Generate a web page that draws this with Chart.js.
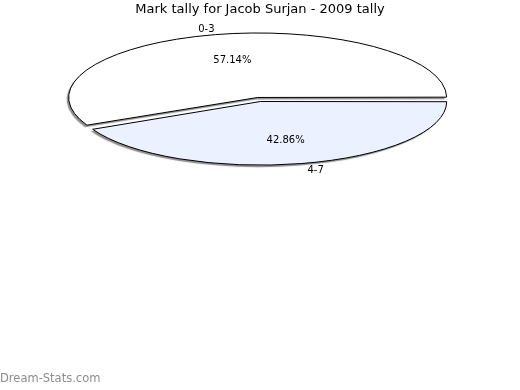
<!DOCTYPE html>
<html>
<head>
<meta charset="utf-8">
<script src="https://cdn.jsdelivr.net/npm/chart.js@4/dist/chart.umd.min.js"></script>
<style>
  html, body { margin: 0; padding: 0; background: #fff; }
  #wrap { width: 520px; height: 390px; position: relative; }
</style>
</head>
<body>
<div id="wrap"><canvas id="pieChart"></canvas></div>
<script>
// Mark tally pie (flattened into an ellipse)
const categories = ['0-3', '4-7'];
const counts = [4, 3];

const total = counts.reduce((a, b) => a + b, 0);

// where the flattened pie sits on the page
const CX = 259, CY = 99.5, RX = 189, RY = 64.5;
const EXPLODE = 22;
const FONT = '"DejaVu Sans", Verdana, sans-serif';

const ellipsePie = {
    id: 'ellipsePie',
    beforeDatasetsDraw(chart) {
        const ctx = chart.ctx;
        const arc = chart.getDatasetMeta(0).data[0];
        const R = arc.outerRadius + EXPLODE / 4;
        const dpr = chart.currentDevicePixelRatio;
        ctx.save();
        ctx.translate(CX, CY);
        ctx.scale(RX / R, RY / R);
        ctx.translate(-arc.x, -arc.y);
        const fill = ctx.fill, stroke = ctx.stroke;
        ctx.fill = function () {
            this.save();
            this.shadowColor = 'rgba(0,0,0,0.45)';
            this.shadowOffsetX = -2;
            this.shadowOffsetY = 2;
            this.shadowBlur = 1;
            fill.apply(this, arguments);
            this.restore();
        };
        // stroke in page space so the outline stays 1px all round
        ctx.stroke = function () {
            this.save();
            this.setTransform(dpr, 0, 0, dpr, 0, 0);
            this.shadowColor = 'transparent';
            stroke.apply(this, arguments);
            this.restore();
        };
    },
    afterDatasetsDraw(chart) {
        const ctx = chart.ctx;
        delete ctx.fill;
        delete ctx.stroke;
        ctx.restore();

        const meta = chart.getDatasetMeta(0);
        ctx.save();
        ctx.font = '10px ' + FONT;
        ctx.fillStyle = '#000';
        meta.data.forEach((arc, i) => {
            const R = arc.outerRadius + EXPLODE / 4;
            const mid = (arc.startAngle + arc.endAngle) / 2;
            const c = Math.cos(mid), s = Math.sin(mid);
            const sh = EXPLODE / 4;
            const ox = CX + sh * c * RX / R;
            const oy = CY + sh * s * RY / R;

            const pct = (counts[i] / total * 100).toFixed(2) + '%';
            ctx.textAlign = 'center';
            ctx.textBaseline = 'middle';
            ctx.fillText(pct, ox + 0.6 * RX * c, oy + 0.6 * RY * s + 1);

            ctx.textAlign = c < 0 ? 'right' : 'left';
            ctx.textBaseline = s < 0 ? 'bottom' : 'top';
            ctx.fillText(categories[i], ox + RX * c + (c < 0 ? -1 : 5), oy + RY * s + (s < 0 ? -0.5 : 1));
        });
        ctx.restore();
    }
};

new Chart(document.getElementById('pieChart').getContext('2d'), {
    type: 'pie',
    data: {
        labels: categories,
        datasets: [{
            data: counts,
            backgroundColor: ['#FFFFFF', '#EBF1FF'],
            borderColor: '#000000',
            borderWidth: 1,
            borderJoinStyle: 'miter',
            offset: EXPLODE
        }]
    },
    options: {
        responsive: true,
        maintainAspectRatio: false,
        animation: false,
        events: [],
        rotation: 90 + 360 * counts[1] / total,
        plugins: {
            legend: { display: false },
            tooltip: { enabled: false },
            title: {
                display: true,
                text: 'Mark tally for Jacob Surjan - 2009 tally',
                color: '#000',
                font: { family: FONT, size: 13, weight: 'normal' },
                padding: { top: 2, bottom: 0 }
            },
            subtitle: {
                display: true,
                position: 'bottom',
                align: 'start',
                text: 'Dream-Stats.com',
                color: '#8c8c8c',
                font: { family: FONT, size: 11.5, weight: 'normal' },
                padding: { top: 0, bottom: 4 }
            }
        }
    },
    plugins: [ellipsePie]
});
</script>
</body>
</html>
